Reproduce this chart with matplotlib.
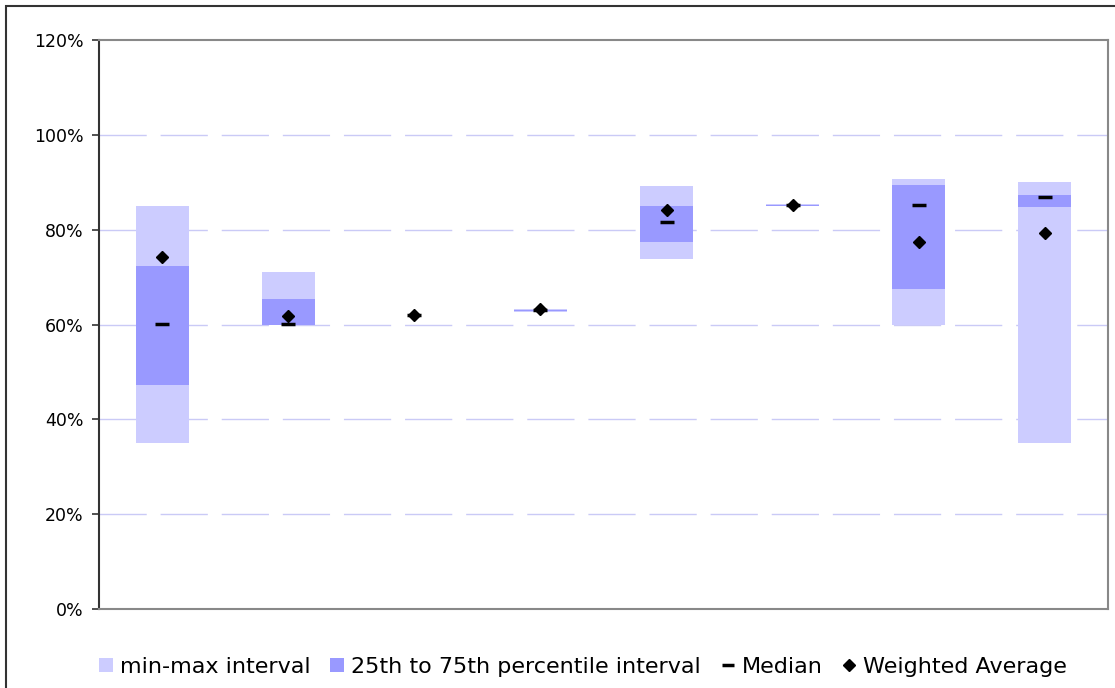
import matplotlib
matplotlib.use("Agg")
import matplotlib.pyplot as plt
from matplotlib.lines import Line2D
from matplotlib.patches import Patch, Rectangle
import numpy as np

categories = ["1", "2", "3", "4", "5", "6", "7", "8"]
mins = [35.0, 60.0, 62.0, 62.6, 73.8, 84.9, 60.0, 35.0]
q1s = [47.3, 60.0, 62.0, 62.8, 77.5, 84.9, 67.5, 84.8]
q3s = [72.3, 65.4, 62.0, 63.1, 85.0, 85.2, 89.4, 87.3]
maxs = [85.0, 71.1, 62.0, 63.3, 89.2, 85.5, 90.7, 90.0]
medians = [60.1, 60.1, 62.0, 63.0, 81.7, 85.1, 85.1, 86.8]
wavg = [74.2, 61.8, 61.9, 63.2, 84.1, 85.2, 77.5, 79.4]
yticks = [0, 20, 40, 60, 80, 100, 120]

light = "#CCCCFF"
dark = "#9999FF"

fig = plt.figure(figsize=(11.15, 6.88), dpi=100)
ax = fig.add_axes([99/1115, 79/688, (1108-99)/1115, (609-40)/688])

x = np.arange(len(categories))
w = 0.42
ax.bar(x, np.array(maxs) - np.array(mins), bottom=mins, width=w, color=light, zorder=2, linewidth=0)
ax.bar(x, np.array(q3s) - np.array(q1s), bottom=q1s, width=w, color=dark, zorder=3, linewidth=0)
ax.plot(x, medians, linestyle="none", marker="_", markersize=10, markeredgewidth=2.5, color="black", zorder=4)
ax.plot(x, wavg, linestyle="none", marker="D", markersize=6, color="black", zorder=5)

ax.set_xlim(-0.5, len(categories) - 0.5)
ax.set_ylim(0, 120)
ax.set_yticks(yticks)
ax.set_yticklabels([f"{t}%" for t in yticks], fontsize=12.5, color="black")
ax.set_xticks([])
ax.tick_params(axis="y", direction="out", length=5, width=1.2, color="#333333", pad=6)
for y in yticks[1:-1]:
    ax.axhline(y, color="#CACAF6", linewidth=1.0, linestyle=(0, (34, 10)), zorder=1)

for side in ["top", "right", "bottom"]:
    ax.spines[side].set_color("#888888")
    ax.spines[side].set_linewidth(1.5)
ax.spines["left"].set_color("#333333")
ax.spines["left"].set_linewidth(1.5)

# figure border
fig.patches.append(Rectangle((6/1115, -0.05), 1.1, 1 - 6/688 + 0.05, transform=fig.transFigure,
                             fill=False, edgecolor="#333333", linewidth=1.5, clip_on=False))

handles = [
    Patch(facecolor=light, edgecolor="none", label="min-max interval"),
    Patch(facecolor=dark, edgecolor="none", label="25th to 75th percentile interval"),
    Line2D([], [], linestyle="none", marker="_", markersize=9, markeredgewidth=2.5, color="black", label="Median"),
    Line2D([], [], linestyle="none", marker="D", markersize=6, color="black", label="Weighted Average"),
]
fig.legend(handles=handles, loc="center", bbox_to_anchor=(583/1115, 1 - 667/688), ncol=4, frameon=False,
           fontsize=16, handlelength=0.63, handleheight=0.63, handletextpad=0.3, columnspacing=0.9)

fig.savefig("out.png", dpi=100)
